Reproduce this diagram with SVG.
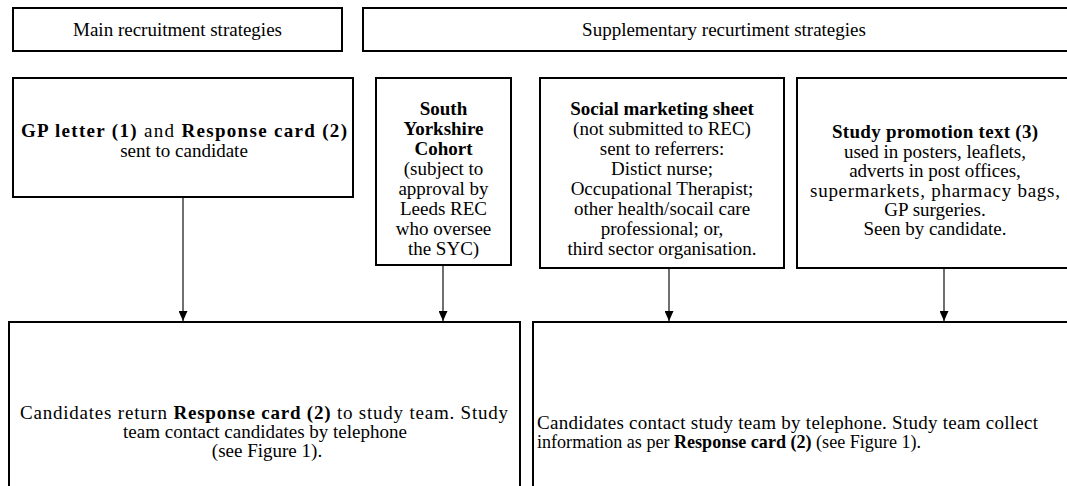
<svg xmlns="http://www.w3.org/2000/svg" width="1067" height="486" viewBox="0 0 1067 486">
<defs>
<style>
.box{fill:#fff;stroke:#000;stroke-width:2}
.t{font-family:"Liberation Serif","Times New Roman",serif;font-size:19px;fill:#000}
.c{text-anchor:middle}
.b{font-weight:bold}
.conn{stroke:#222;stroke-width:1.3;fill:none}
</style>
<marker id="ah" markerWidth="10" markerHeight="9" refX="10" refY="4.5" orient="auto" markerUnits="userSpaceOnUse" viewBox="0 0 10 9">
<path d="M0,0 L10,4.5 L0,9 Z" fill="#000"/>
</marker>
</defs>
<rect width="1067" height="486" fill="#fff"/>
<g id="hdr-main" class="t"><rect class="box" x="13" y="8" width="329" height="43"/><text class="c" x="177.5" y="36">Main recruitment strategies</text></g>
<g id="hdr-supp" class="t"><rect class="box" x="363" y="8" width="710" height="43"/><text class="c" x="724" y="36">Supplementary recurtiment strategies</text></g>
<g id="gp" class="t"><rect class="box" x="13" y="78" width="340" height="119"/>
<text x="21" y="137" textLength="326" lengthAdjust="spacing"><tspan class="b">GP letter (1)</tspan> and <tspan class="b">Response card (2)</tspan></text>
<text class="c" x="184" y="157">sent to candidate</text></g>
<g id="syc" class="t"><rect class="box" x="376" y="78" width="135" height="187"/>
<text class="c b" x="443.5" y="115">South</text>
<text class="c b" x="443.5" y="135">Yorkshire</text>
<text class="c b" x="443.5" y="155">Cohort</text>
<text class="c" x="443.5" y="175">(subject to</text>
<text class="c" x="443.5" y="195">approval by</text>
<text class="c" x="443.5" y="215">Leeds REC</text>
<text class="c" x="443.5" y="235">who oversee</text>
<text class="c" x="443.5" y="255">the SYC)</text></g>
<g id="social" class="t"><rect class="box" x="540" y="78" width="244" height="190"/>
<text class="c b" x="662" y="115">Social marketing sheet</text>
<text class="c" x="662" y="135">(not submitted to REC)</text>
<text class="c" x="662" y="155">sent to referrers:</text>
<text class="c" x="662" y="175">Distict nurse;</text>
<text class="c" x="662" y="195">Occupational Therapist;</text>
<text class="c" x="662" y="215">other health/socail care</text>
<text class="c" x="662" y="235">professional; or,</text>
<text class="c" x="662" y="255">third sector organisation.</text></g>
<g id="promo" class="t"><rect class="box" x="797" y="78" width="280" height="190"/>
<text x="832" y="138" textLength="206" lengthAdjust="spacing" class="b">Study promotion text (3)</text>
<text class="c" x="935" y="158">used in posters, leaflets,</text>
<text class="c" x="935" y="177">adverts in post offices,</text>
<text x="810" y="197" textLength="250" lengthAdjust="spacing">supermarkets, pharmacy bags,</text>
<text class="c" x="935" y="216">GP surgeries.</text>
<text class="c" x="935" y="235">Seen by candidate.</text></g>
<g id="resp-main" class="t"><rect class="box" x="9" y="322" width="511" height="170"/>
<text x="20" y="419" textLength="488" lengthAdjust="spacing">Candidates return <tspan class="b">Response card (2)</tspan> to study team. Study</text>
<text class="c" x="265" y="438">team contact candidates by telephone</text>
<text class="c" x="267" y="457">(see Figure 1).</text></g>
<g id="resp-supp" class="t"><rect class="box" x="533" y="322" width="540" height="170"/>
<text x="537" y="429" textLength="501" lengthAdjust="spacing">Candidates contact study team by telephone. Study team collect</text>
<text x="537" y="448" textLength="384" lengthAdjust="spacingAndGlyphs">information as per <tspan class="b">Response card (2)</tspan> (see Figure 1).</text></g>
<g id="connectors">
<line class="conn" x1="183" y1="198" x2="183" y2="321" marker-end="url(#ah)"/>
<line class="conn" x1="443" y1="266" x2="443" y2="321" marker-end="url(#ah)"/>
<line class="conn" x1="669" y1="269" x2="669" y2="321" marker-end="url(#ah)"/>
<line class="conn" x1="944" y1="269" x2="944" y2="321" marker-end="url(#ah)"/>
</g>
</svg>
